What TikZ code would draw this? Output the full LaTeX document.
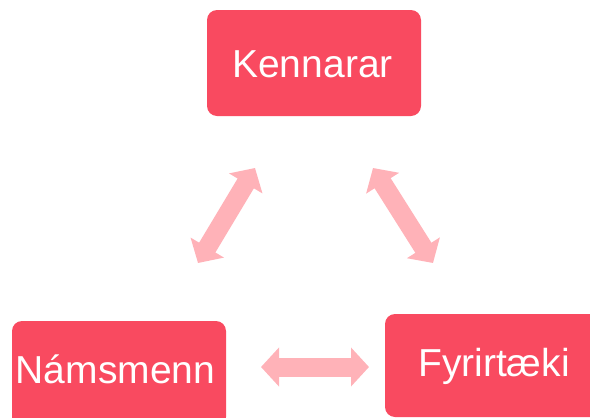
\documentclass[tikz,border=0pt]{standalone}
\usepackage{fontspec}
\setmainfont{Liberation Sans}
\usetikzlibrary{arrows.meta}
\definecolor{boxred}{HTML}{F94A60}
\definecolor{arrowpink}{HTML}{FFB2B8}
\begin{document}
\begin{tikzpicture}[x=1pt,y=-1pt,
  box/.style={fill=boxred, draw=none, rounded corners=10pt, inner sep=0pt},
  lbl/.style={text=white, inner sep=0pt, anchor=base, font=\fontsize{39}{41}\selectfont},
  bigarrow/.style={draw=arrowpink, line width=19pt,
    {Triangle[width=38pt,length=18pt]}-{Triangle[width=38pt,length=18pt]}}]
\useasboundingbox (0,0) rectangle (590,418);
\clip (0,0) rectangle (590,418);
% boxes
\node[box, minimum width=214pt, minimum height=106pt] (kbox) at (314,63) {};
\node[box, minimum width=214pt, minimum height=106pt] (nbox) at (119,374) {};
\node[box, minimum width=218pt, minimum height=103pt] (fbox) at (494,365.5) {};
% labels
\node[lbl] (k) at (312.5,77) {Kennarar};
\node[lbl] (n) at (115.5,383) {Námsmenn};
\node[lbl] (f) at (494,376) {Fyrirtæki};
% arrow ends
\coordinate (a1) at (198,263);
\coordinate (a2) at (255,168);
\coordinate (b1) at (373,168);
\coordinate (b2) at (433,263);
\coordinate (c1) at (261,367);
\coordinate (c2) at (369,367);
\draw[bigarrow] (a1) -- (a2);
\draw[bigarrow] (b1) -- (b2);
\draw[bigarrow] (c1) -- (c2);
\end{tikzpicture}
\end{document}
